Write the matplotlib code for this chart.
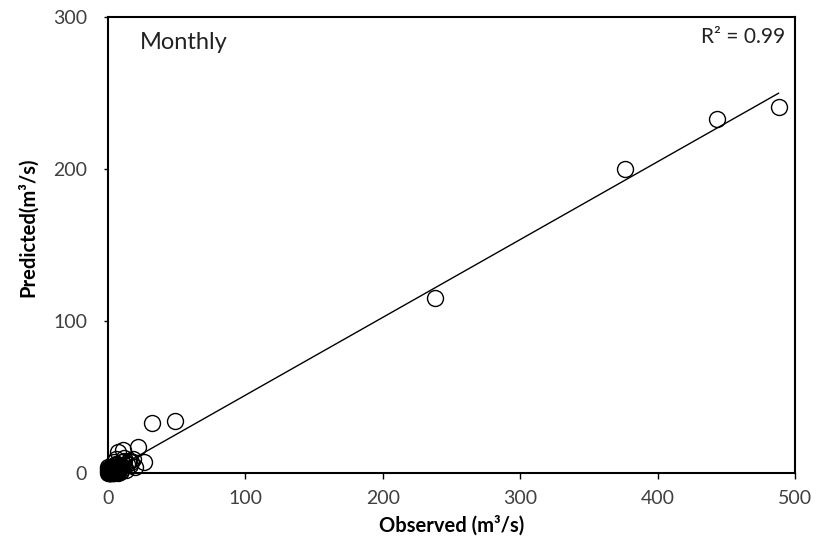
import numpy as np
import matplotlib
matplotlib.use("Agg")
import matplotlib.pyplot as plt

plt.rcParams['font.family'] = ['Lato', 'DejaVu Sans']

# monthly observed vs predicted flows (m3/s)
observed = [488, 443, 376, 238, 49, 32, 26, 22, 11, 7,
            18, 15, 14, 12, 10, 9, 8, 6, 5, 4,
            3, 2, 1, 0.5, 2, 4, 6, 8, 3, 1,
            5, 9, 12, 16, 20, 7, 2, 1, 3, 0.5,
            0.2, 0.8, 1.5, 2.5, 3.5, 4.5, 5.5, 6.5, 7.5, 8.5,
            9.5, 10.5, 0.3, 1.2, 2.2, 3.2, 4.2, 5.2, 6.2, 7.2,
            0.6, 1.8, 2.8, 3.8, 4.8, 5.8, 6.8, 0.1, 1.1, 2.1,
            3.1, 4.1, 5.1, 0.4, 1.4, 2.4, 3.4, 11.5, 13, 17,
            0.9, 1.6, 2.6, 3.6, 4.6, 5.6, 6.6, 7.6, 8.6, 9.6,
            0.7, 1.7, 2.7, 3.7, 4.7, 5.7, 0.2, 1.3, 2.3, 3.3,
            4.3, 5.3, 6.3, 7.3, 8.3, 0.5, 1.5, 2.5, 3.5, 4.5]
predicted = [241, 233, 200, 115, 34, 33, 7, 17, 15, 14,
             9, 8, 6, 10, 7, 5, 4, 6, 3, 2,
             1, 0.5, 1, 0.3, 4, 7, 9, 2, 0.5, 2,
             5, 3, 8, 5, 4, 1, 3, 0.2, 2, 1,
             0.1, 0.4, 0.8, 1.2, 1.6, 2.0, 2.4, 2.8, 3.2, 3.6,
             4.0, 4.4, 1.5, 2.5, 0.2, 3.5, 0.6, 1.0, 4.5, 0.3,
             3.0, 2.0, 4.0, 0.1, 3.0, 2.0, 1.5, 2.5, 3.5, 1.0,
             0.7, 1.3, 0.4, 0.6, 0.2, 2.8, 2.2, 5.5, 2.0, 7.0,
             0.5, 1.8, 0.9, 2.6, 0.3, 3.1, 1.1, 2.0, 0.7, 1.4,
             2.3, 0.2, 1.6, 0.8, 2.1, 0.4, 3.8, 1.9, 3.3, 0.1,
             1.2, 2.7, 0.6, 1.7, 2.5, 2.0, 0.3, 1.5, 0.9, 3.6]

# trend line coefficients (slope, intercept)
fit_slope = 0.512
fit_intercept = 0.0
r2_text = "R² = 0.99"

fig = plt.figure(figsize=(8.17, 5.42), dpi=100)
ax = fig.add_axes([0.1322, 0.1273, 0.8409, 0.8413])

ax.plot(observed, predicted, 'o', mfc='none', mec='black',
        ms=11.5, mew=1.0, zorder=3, clip_on=False)

xfit = np.array([0, max(observed)])
ax.plot(xfit, fit_slope * xfit + fit_intercept, color='black', lw=1.0, zorder=2)

ax.set_xlim(0, 500)
ax.set_ylim(0, 300)
ax.set_xticks([0, 100, 200, 300, 400, 500])
ax.set_yticks([0, 100, 200, 300])

for s in ax.spines.values():
    s.set_linewidth(1.5)

ax.tick_params(axis='x', direction='out', length=4, width=1, labelsize=14,
               labelcolor='#404040', pad=8)
ax.tick_params(axis='y', direction='out', length=3, width=1, labelsize=14,
               labelcolor='#404040', pad=12)

ax.set_xlabel('Observed (m³/s)', fontsize=14.5, fontweight='bold')
ax.set_ylabel('Predicted(m³/s)', fontsize=14.5, fontweight='bold')
ax.xaxis.label.set_va('center')
ax.yaxis.label.set_va('center')
ax.xaxis.set_label_coords(0.5, -0.116)
ax.yaxis.set_label_coords(-0.117, 0.539)

ax.text(0.047, 0.945, 'Monthly', transform=ax.transAxes, fontsize=17,
        va='center', ha='left', color='#222222')
ax.text(0.985, 0.956, r2_text, transform=ax.transAxes, fontsize=15,
        va='center', ha='right', color='#222222')

fig.savefig('out.png', dpi=100)
plt.close(fig)
